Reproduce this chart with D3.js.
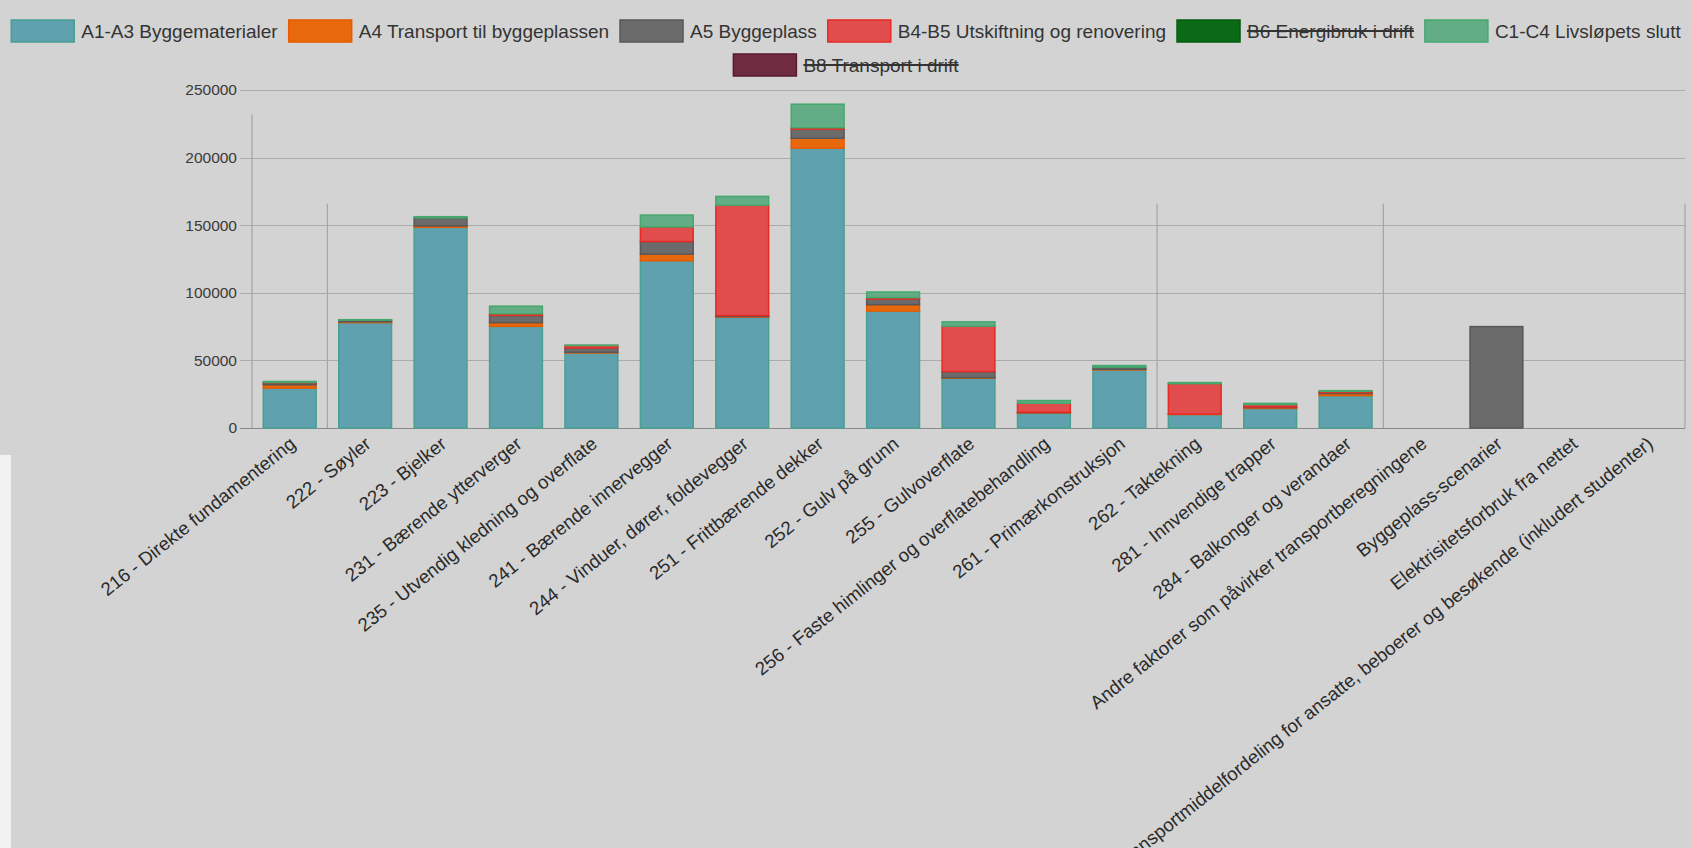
<!DOCTYPE html>
<html>
<head>
<meta charset="utf-8">
<script src="https://cdn.jsdelivr.net/npm/d3@7"></script>
<style>
  html, body { margin: 0; padding: 0; background: #d3d3d3; }
  svg { display: block; font-family: "Liberation Sans", Arial, Helvetica, sans-serif; }
</style>
</head>
<body>
<svg id="chart" width="1691" height="848"></svg>
<script>
// ---------------- DATA ----------------
const categories = [
  "216 - Direkte fundamentering",
  "222 - Søyler",
  "223 - Bjelker",
  "231 - Bærende ytterverger",
  "235 - Utvendig kledning og overflate",
  "241 - Bærende innervegger",
  "244 - Vinduer, dører, foldevegger",
  "251 - Frittbærende dekker",
  "252 - Gulv på grunn",
  "255 - Gulvoverflate",
  "256 - Faste himlinger og overflatebehandling",
  "261 - Primærkonstruksjon",
  "262 - Taktekning",
  "281 - Innvendige trapper",
  "284 - Balkonger og verandaer",
  "Andre faktorer som påvirker transportberegningene",
  "Byggeplass-scenarier",
  "Elektrisitetsforbruk fra nettet",
  "Transportmiddelfordeling for ansatte, beboerer og besøkende (inkludert studenter)"
];

const seriesNames = [
  "A1-A3 Byggematerialer",
  "A4 Transport til byggeplassen",
  "A5 Byggeplass",
  "B4-B5 Utskiftning og renovering",
  "B6 Energibruk i drift",
  "C1-C4 Livsløpets slutt",
  "B8 Transport i drift"
];
const seriesHidden = [false, false, false, false, true, false, true];

const a1a3 = [29500, 78000, 148500, 75200, 55500, 123700, 82000, 207000, 86500, 36800, 11000, 43000, 10000, 14500, 24000, 0, 0, 0, 0];
const a4   = [2500, 600, 1000, 2700, 500, 4900, 400, 7300, 4700, 400, 300, 500, 300, 600, 1500, 0, 0, 0, 0];
const a5   = [1500, 1200, 6000, 5400, 3200, 9300, 800, 6800, 4200, 4500, 400, 1500, 0, 500, 800, 0, 75000, 0, 0];
const b4b5 = [200, 0, 0, 1200, 1800, 10800, 81600, 1000, 1000, 33600, 6600, 0, 22500, 1800, 800, 0, 0, 0, 0];
const b6   = [0, 0, 0, 0, 0, 0, 0, 0, 0, 0, 0, 0, 0, 0, 0, 0, 0, 0, 0];
const c1c4 = [700, 300, 800, 5600, 300, 8800, 6500, 17400, 4200, 3200, 2000, 1200, 800, 800, 500, 0, 0, 0, 0];
const b8   = [0, 0, 0, 0, 0, 0, 0, 0, 0, 0, 0, 0, 0, 0, 0, 0, 0, 0, 0];

const yTicks = [0, 50000, 100000, 150000, 200000, 250000];

// ---------------- STYLE ----------------
const fills   = ["#5fa1ae", "#e8690c", "#6b6b6b", "#e14c4d", "#0a6a16", "#62ad86", "#6f2c40"];
const borders = ["#48a08e", "#e85a00", "#585858", "#e82a24", "#045c10", "#45a86c", "#5a1a2c"];

const W = 1691, H = 848;
const plot = { left: 252, right: 1685, top: 90, bottom: 428 };

const svg = d3.select("#chart");
svg.append("rect").attr("width", W).attr("height", H).attr("fill", "#d3d3d3");
svg.append("rect").attr("x", 0).attr("y", 455).attr("width", 11).attr("height", H - 455).attr("fill", "#f2f2f2");

const x = d3.scaleBand().domain(categories).range([plot.left, plot.right])
  .paddingInner(0.28).paddingOuter(0.14);
const xOuter = d3.scaleBand().domain(categories).range([plot.left, plot.right]);
const y = d3.scaleLinear().domain([0, 250000]).range([plot.bottom, plot.top]);

// horizontal grid
const gGrid = svg.append("g");
gGrid.selectAll("line.h").data(yTicks).join("line")
  .attr("x1", plot.left - 12).attr("x2", plot.right)
  .attr("y1", d => Math.round(y(d)) + 0.5).attr("y2", d => Math.round(y(d)) + 0.5)
  .attr("stroke", d => d === 0 ? "#8a8a8a" : "#ababab").attr("stroke-width", 1.2);

// visible vertical grid lines (partial, as in the reference)
const vGridIdx = [0, 1, 12, 15, 19];
const vGridTop = [232000, 166000, 166000, 166000, 166000];
gGrid.selectAll("line.v").data(vGridIdx).join("line")
  .attr("x1", d => d < categories.length ? xOuter(categories[d]) : plot.right)
  .attr("x2", d => d < categories.length ? xOuter(categories[d]) : plot.right)
  .attr("y1", (d, i) => y(vGridTop[i])).attr("y2", plot.bottom)
  .attr("stroke", "#a4a4a4").attr("stroke-width", 1.2);

// y tick labels
svg.append("g").selectAll("text").data(yTicks).join("text")
  .attr("x", 237).attr("y", d => y(d)).attr("dy", "0.35em")
  .attr("text-anchor", "end").attr("font-size", 15.5).attr("fill", "#3a3a3a")
  .text(d => d);

// stacked bars
const seriesData = [a1a3, a4, a5, b4b5, b6, c1c4, b8];
const rows = categories.map((c, i) => {
  const o = { cat: c };
  seriesNames.forEach((s, k) => { o[s] = seriesHidden[k] ? 0 : seriesData[k][i]; });
  return o;
});
const stack = d3.stack().keys(seriesNames)(rows);
const gBars = svg.append("g");
stack.forEach((layer, k) => {
  if (seriesHidden[k]) return;
  gBars.append("g").selectAll("rect").data(layer.filter(d => d[1] - d[0] > 0)).join("rect")
    .attr("x", d => x(d.data.cat) + 0.75)
    .attr("width", x.bandwidth() - 1.5)
    .attr("y", d => y(d[1]))
    .attr("height", d => Math.max(0, y(d[0]) - y(d[1])))
    .attr("fill", fills[k])
    .attr("stroke", borders[k]).attr("stroke-width", 1.5);
});

// x labels (rotated)
const angle = -38.5;
svg.append("g").selectAll("text").data(categories).join("text")
  .attr("transform", d => `translate(${x(d) + x.bandwidth() / 2 + 3},${plot.bottom + 13}) rotate(${angle})`)
  .attr("text-anchor", "end").attr("dy", "0.35em")
  .attr("font-size", 18.7).attr("fill", "#2a2a2a")
  .text(d => d);

// legend
const legendRows = [[0, 1, 2, 3, 4, 5], [6]];
const rowY = [31, 65];
const boxW = 65, boxH = 22, gapText = 6, gapItem = 10, fs = 19;
const gLeg = svg.append("g");
legendRows.forEach((row, r) => {
  const g = gLeg.append("g");
  let cx = 0;
  row.forEach(k => {
    const it = g.append("g").attr("transform", `translate(${cx},0)`);
    it.append("rect").attr("x", 1).attr("y", rowY[r] - boxH / 2).attr("width", boxW - 2).attr("height", boxH)
      .attr("fill", fills[k]).attr("stroke", borders[k]).attr("stroke-width", 1.5);
    const t = it.append("text").attr("x", boxW + gapText).attr("y", rowY[r]).attr("dy", "0.35em")
      .attr("font-size", fs).attr("fill", "#333").text(seriesNames[k]);
    const tw = t.node().getComputedTextLength();
    if (seriesHidden[k]) {
      it.append("line").attr("x1", boxW + gapText).attr("x2", boxW + gapText + tw)
        .attr("y1", rowY[r]).attr("y2", rowY[r]).attr("stroke", "#333").attr("stroke-width", 2);
    }
    cx += boxW + gapText + tw + gapItem;
  });
  const total = cx - gapItem;
  g.attr("transform", `translate(${(W - total) / 2},0)`);
});
</script>
</body>
</html>
